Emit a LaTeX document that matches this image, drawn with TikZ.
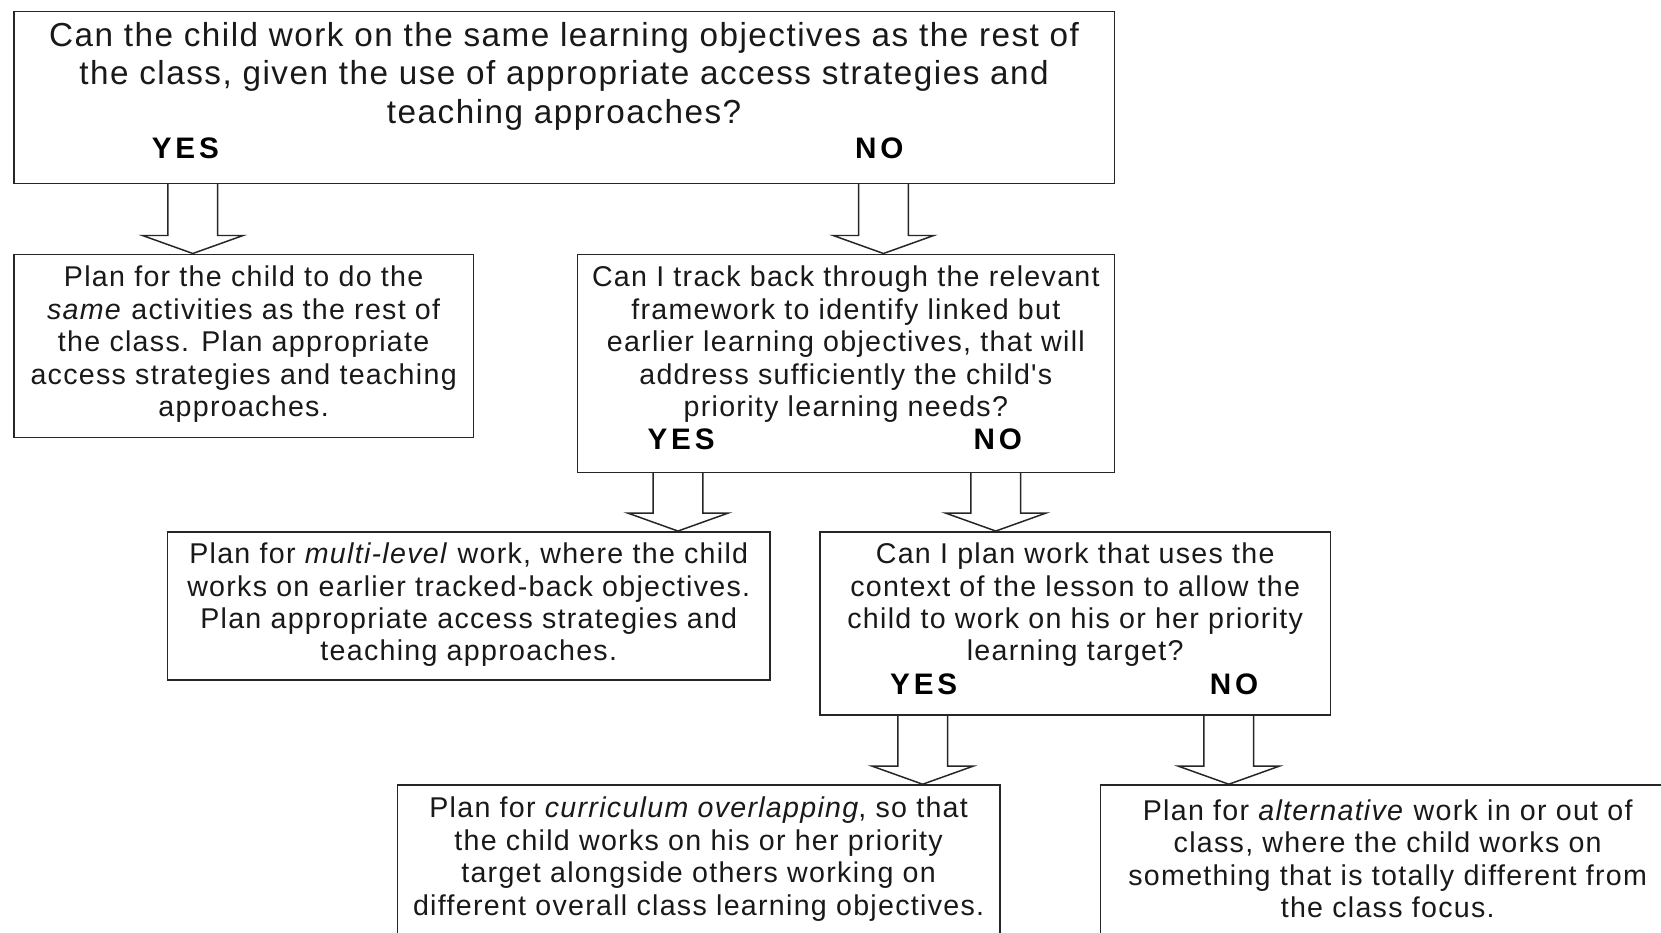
\documentclass[tikz,border=0pt]{standalone}
\usepackage{fontspec}
\setmainfont[LetterSpace=4.5, Ligatures=TeXOff]{Liberation Sans}
\newfontfamily\labfont[LetterSpace=13]{Liberation Sans}
\usetikzlibrary{calc}
\tikzset{
  box/.style={draw=black!85, line width=0.7pt, inner sep=0pt, rectangle},
  bodytext/.style={align=center, inner sep=0pt, text=black!90, font=\fontsize{13.5}{15.3}\selectfont},
  toptext/.style={align=center, inner sep=0pt, text=black!90, font=\fontsize{15.7}{18}\selectfont},
  yn/.style={inner sep=0pt, text=black, font=\fontsize{14}{16}\selectfont\labfont\bfseries},
  blk/.style={draw=black!85, line width=0.7pt, line join=miter},
}
\newcommand\blockarrow[3]{%
  \path (#3 |- #1.south) coordinate (ba-s) (#3 |- #2.north) coordinate (ba-t);
  \draw[blk] ($(ba-s)+(-23.5,0)$) -- ($(ba-t)+(-23.5,-17)$) -- ($(ba-t)+(-47.5,-17)$) -- (ba-t)
     -- ($(ba-t)+(47.5,-17)$) -- ($(ba-t)+(23.5,-17)$) -- ($(ba-s)+(23.5,0)$);
}
\begin{document}
\begin{tikzpicture}[x=0.5pt, y=-0.5pt]
\useasboundingbox (0,0) rectangle (1568,880);
\fill[white] (0,0) rectangle (1568,880);
\clip (0,0) rectangle (1568,880);

% boxes
\node[box, minimum width=519.5pt, minimum height=81pt] (top) at (532.5,92) {};
\node[box, minimum width=217pt, minimum height=86.5pt] (A) at (230,326.5) {};
\node[box, minimum width=253.5pt, minimum height=103pt] (B) at (798.5,343) {};
\node[box, minimum width=284.5pt, minimum height=70pt] (C) at (442.5,572) {};
\node[box, minimum width=241pt, minimum height=86.5pt] (D) at (1015,588.5) {};
\node[box, minimum width=284.5pt, minimum height=72.5pt] (E) at (659.5,813.5) {};
\node[box, minimum width=271pt, minimum height=72.5pt] (F) at (1310,813.5) {};

% texts
\node[toptext] (topT) at (532.5,72) {Can the child work on the same learning objectives as the rest of\\the class, given the use of appropriate access strategies and\\teaching approaches?};
\node[bodytext] (AT) at (230,325) {Plan for the child to do the\\\textit{same} activities as the rest of\\the class. Plan appropriate\\access strategies and teaching\\approaches.};
\node[bodytext] (BT) at (798.5,325) {Can I track back through the relevant\\framework to identify linked but\\earlier learning objectives, that will\\address sufficiently the child's\\priority learning needs?};
\node[bodytext] (CT) at (442.5,571) {Plan for \textit{multi-level} work, where the child\\works on earlier tracked-back objectives.\\Plan appropriate access strategies and\\teaching approaches.};
\node[bodytext] (DT) at (1015,571) {Can I plan work that uses the\\context of the lesson to allow the\\child to work on his or her priority\\learning target?};
\node[bodytext] (ET) at (659.5,811) {Plan for \textit{curriculum overlapping}, so that\\the child works on his or her priority\\target alongside others working on\\different overall class learning objectives.};
\node[bodytext] (FT) at (1310,810.5) {Plan for \textit{alternative} work in or out of\\class, where the child works on\\something that is totally different from\\the class focus.};

% yes / no labels
\node[yn] (yes1) at (175,140) {YES};
\node[yn] (no1) at (830,140) {NO};
\node[yn] (yes2) at (643,415) {YES};
\node[yn] (no2) at (942,415) {NO};
\node[yn] (yes3) at (872,646) {YES};
\node[yn] (no3) at (1165,646) {NO};

% arrow axes
\coordinate (ax1) at (182,0);
\coordinate (ax2) at (834,0);
\coordinate (ax3) at (640,0);
\coordinate (ax4) at (940,0);
\coordinate (ax5) at (871,0);
\coordinate (ax6) at (1160,0);

\blockarrow{top}{A}{ax1}
\blockarrow{top}{B}{ax2}
\blockarrow{B}{C}{ax3}
\blockarrow{B}{D}{ax4}
\blockarrow{D}{E}{ax5}
\blockarrow{D}{F}{ax6}
\end{tikzpicture}
\end{document}
